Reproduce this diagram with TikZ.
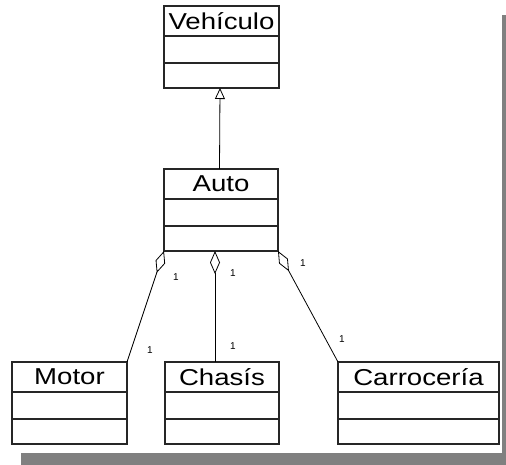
\documentclass[tikz,border=0pt]{standalone}
\usepackage{fontspec}
\setmainfont{Liberation Sans}
\newfontfamily\classfont[FakeStretch=1.2]{Liberation Sans}
\usetikzlibrary{positioning,arrows.meta}
\definecolor{shadowgray}{RGB}{128,128,128}
\tikzset{
  classhead/.style={draw=black!85, line width=1.1pt, outer sep=0pt, inner sep=0pt,
    minimum width=#1, minimum height=30pt, font=\classfont\fontsize{23}{23}\selectfont},
  classattr/.style={draw=black!85, line width=1.1pt, outer sep=0pt, inner sep=0pt,
    minimum width=#1, minimum height=27pt},
  classops/.style={draw=black!85, line width=1.1pt, outer sep=0pt, inner sep=0pt,
    minimum width=#1, minimum height=25pt},
  inherit/.style={-{Triangle[open,length=11pt,width=10pt]}, line width=0.8pt},
  aggr/.style={{Diamond[open,length=23pt,width=10pt]}-, line width=0.8pt},
  mult/.style={inner sep=0pt, font=\fontsize{10}{10}\selectfont}
}

\begin{document}
\begin{tikzpicture}[x=1pt,y=-1pt]
  \useasboundingbox (0,0) rectangle (506,465);
  % drop shadow of the frame
  \fill[shadowgray] (502,15) rectangle (506,465);
  \fill[shadowgray] (21,453) rectangle (506,465);

  % classes
  \node[classhead=115pt, anchor=north west] (veh) at (164,6) {Vehículo};
  \node[classattr=115pt, below=0pt of veh] (veh-a) {};
  \node[classops=115pt, below=0pt of veh-a] (veh-o) {};

  \node[classhead=114pt, anchor=north west] (auto) at (164,169) {Auto};
  \node[classattr=114pt, below=0pt of auto] (auto-a) {};
  \node[classops=114pt, below=0pt of auto-a] (auto-o) {};

  \node[classhead=115pt, anchor=north west] (motor) at (12,362) {Motor};
  \node[classattr=115pt, below=0pt of motor] (motor-a) {};
  \node[classops=115pt, below=0pt of motor-a] (motor-o) {};

  \node[classhead=114pt, anchor=north west] (chasis) at (165,362) {Chasís};
  \node[classattr=114pt, below=0pt of chasis] (chasis-a) {};
  \node[classops=114pt, below=0pt of chasis-a] (chasis-o) {};

  \node[classhead=161pt, anchor=north west] (carro) at (338,362) {Carrocería};
  \node[classattr=161pt, below=0pt of carro] (carro-a) {};
  \node[classops=161pt, below=0pt of carro-a] (carro-o) {};

  % generalisation
  \draw[inherit] ([xshift=-1.5pt]auto.north) -- ([xshift=-1.5pt]veh-o.south);

  % aggregations
  \draw[aggr] (auto-o.south west) -- (motor.north east);
  \draw[aggr] ([xshift=-6pt]auto-o.south) -- ([xshift=-7pt]chasis.north);
  \draw[aggr] (auto-o.south east) -- (carro.north west);

  % multiplicities
  \node[mult] (m-motor-a) at (176,277) {1};
  \node[mult] (m-motor-b) at (150,350) {1};
  \node[mult] (m-chasis-a) at (233,273) {1};
  \node[mult] (m-chasis-b) at (233,346) {1};
  \node[mult] (m-carro-a) at (303,263) {1};
  \node[mult] (m-carro-b) at (342,339) {1};
\end{tikzpicture}
\end{document}
